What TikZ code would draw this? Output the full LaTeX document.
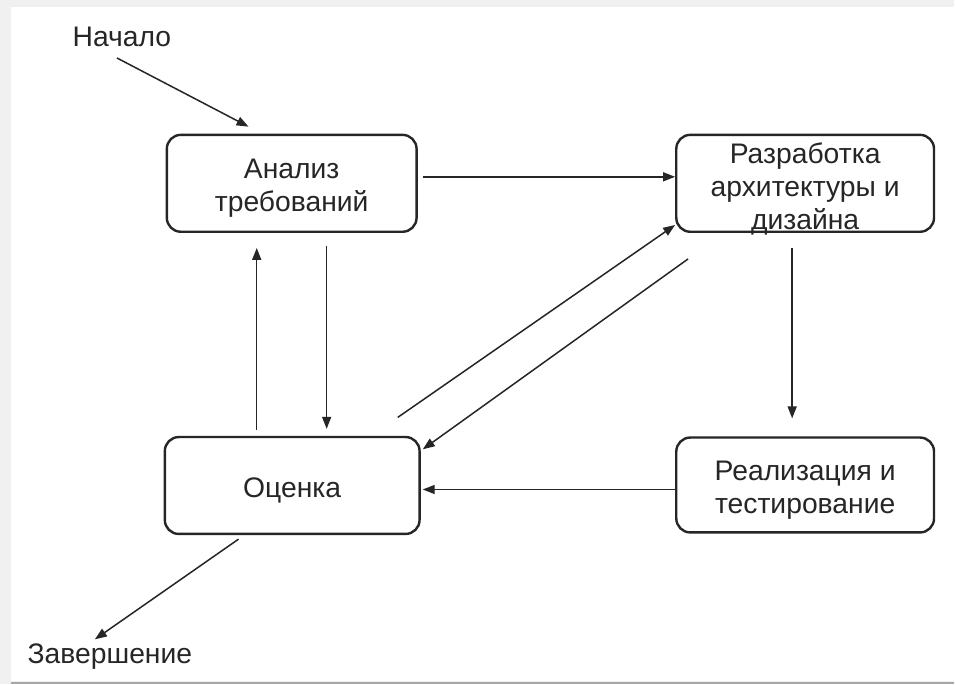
\documentclass[tikz,border=0pt]{standalone}
\usepackage{fontspec}
\setmainfont{Liberation Sans}
\usetikzlibrary{arrows.meta}
\begin{document}
\begin{tikzpicture}[x=1pt,y=-1pt,
  txt/.style={font=\fontsize{28.3}{33}\selectfont, inner sep=0pt, text=black!85, align=center},
  box/.style={draw=black!85, line width=2.4pt, rounded corners=14pt, minimum width=250pt, minimum height=97pt, inner sep=0pt},
  boxtext/.style={label={[txt, yshift=-5pt]center:#1}},
  lbl/.style={txt},
  arr/.style={line width=1.5pt, draw=black!85, -{Triangle[length=12pt,width=9pt]}}]
\fill[gray!12] (0,0) rectangle (955,685);
\fill[white] (11,7) rectangle (955,682);
\draw[gray!70, line width=2pt] (11,683.5) -- (955,683.5);
\useasboundingbox (0,0) rectangle (955,685);

\node[box, boxtext={Анализ\\требований}] (an) at (292,183.5) {};
\node[box, minimum width=258pt, label={[txt, yshift=-6pt]center:Разработка\\архитектуры и\\дизайна}] (ds) at (806,183.5) {};
\node[box, minimum width=255pt, boxtext={Оценка}] (ev) at (292.5,486) {};
\node[box, minimum width=258pt, minimum height=95pt, boxtext={Реализация и\\тестирование}] (re) at (806,485.5) {};
\node[lbl] (st) at (122,37) {Начало};
\node[lbl] (fn) at (110,657) {Завершение};

\draw[arr] ([xshift=-5pt,yshift=-21pt]st.center) -- ([xshift=83pt,yshift=7pt]an.north west);
\draw[arr] ([xshift=75pt,yshift=-4pt]ev.south west) -- ([xshift=-15pt,yshift=17pt]fn.center);
\draw[arr] ([xshift=5pt,yshift=6.5pt]an.east) -- ([yshift=6.5pt]ds.west);
\draw[arr] ([xshift=-13pt,yshift=-15pt]ds.south) -- ([xshift=-13pt,yshift=18pt]re.north);
\draw[arr] ([yshift=-4.5pt]re.west) -- ([xshift=2pt,yshift=-4pt]ev.east);
\draw[arr] ([xshift=-35.5pt,yshift=6pt]ev.north) -- ([xshift=-35pt,yshift=-15pt]an.south);
\draw[arr] ([xshift=35pt,yshift=-13pt]an.south) -- ([xshift=34.5pt,yshift=7pt]ev.north);
\draw[arr] ([xshift=-23pt,yshift=18.5pt]ev.north east) -- ([yshift=8pt]ds.south west);
\draw[arr] ([xshift=13pt,yshift=-26pt]ds.south west) -- ([xshift=2pt,yshift=-13.5pt]ev.north east);
\end{tikzpicture}
\end{document}
